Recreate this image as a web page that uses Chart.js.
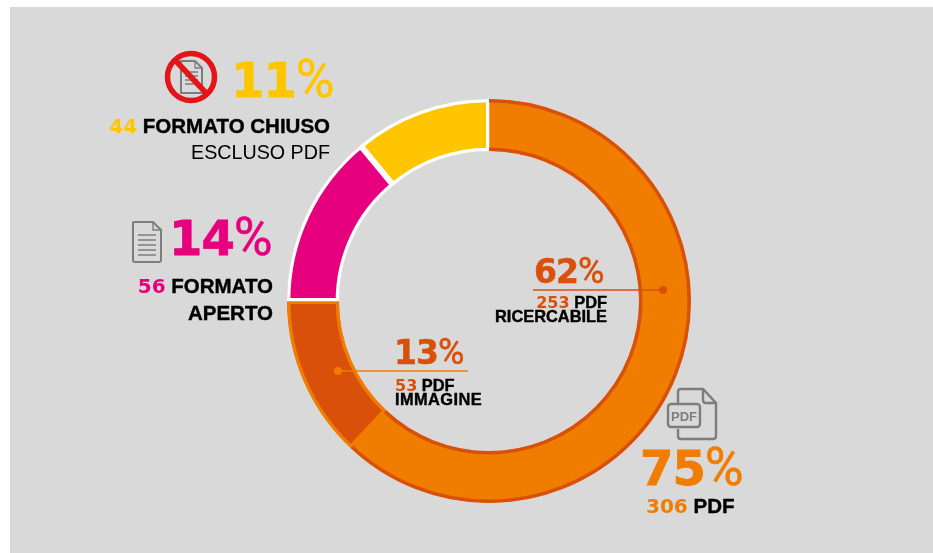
<!DOCTYPE html>
<html>
<head>
<meta charset="utf-8">
<script src="https://cdn.jsdelivr.net/npm/chart.js@4"></script>
<style>
  html, body { margin: 0; padding: 0; width: 933px; height: 553px; background: #fff; overflow: hidden; }
  #panel { position: absolute; left: 10px; top: 7px; right: 0; bottom: 0; background: #d9d9d9; }
  #donut { position: absolute; left: 0; top: 0; }
  .t { position: absolute; white-space: nowrap; font-family: "Liberation Sans", sans-serif; color: #000; }
  .r { text-align: right; }
  .pct { font-family: "DejaVu Sans", sans-serif; font-weight: 700; letter-spacing: -1px; -webkit-text-stroke: 0.8px currentColor; }
  .pct i { font-family: Roboto, sans-serif; font-style: normal; font-weight: 400; font-size: 53px; letter-spacing: 0; -webkit-text-stroke: 0.5px currentColor; }
  .big { font-size: 48px; line-height: 60px; }
  .small { font-size: 33px; line-height: 36px; -webkit-text-stroke: 0.5px currentColor; }
  .small i { font-size: 36px; }
  .lab { font-size: 20.5px; line-height: 26px; font-weight: 700; -webkit-text-stroke: 0.4px currentColor; }
  .mini { font-size: 16.4px; line-height: 14px; font-weight: 700; -webkit-text-stroke: 0.4px currentColor; }
  .lab span:first-child { font-family: "DejaVu Sans", sans-serif; font-size: 20px; -webkit-text-stroke: 0; }
  .mini span:first-child { font-family: "DejaVu Sans", sans-serif; font-size: 16px; -webkit-text-stroke: 0; }
  .reg { font-size: 19.7px; font-weight: 400; -webkit-text-stroke: 0; }
  svg { position: absolute; }
</style>
</head>
<body>
<div id="panel"></div>
<canvas id="donut" width="933" height="553"></canvas>

<svg style="left:160px;top:46px" width="62" height="62" viewBox="0 0 62 62">
  <path d="M21 15h14l7 7v25h-21z" fill="none" stroke="#7d7d7d" stroke-width="2"/>
  <path d="M35 15v7h7M25 26h13M25 30h13M25 34h13M25 38h13" fill="none" stroke="#7d7d7d" stroke-width="1.3"/>
  <circle cx="31" cy="31" r="23.5" fill="none" stroke="#e3151a" stroke-width="5.5"/>
  <path d="M15 14l32 34" stroke="#e3151a" stroke-width="5.5"/>
</svg>
<svg style="left:130px;top:219px" width="34" height="46" viewBox="0 0 34 46">
  <path d="M4 3h19l8 8v30q0 2-2 2H5q-2 0-2-2V4q0-1 1-1z" fill="none" stroke="#7d7d7d" stroke-width="2"/>
  <path d="M23 3v8h8M8 16h18M8 21h18M8 26h18M8 31h18M8 36h18" fill="none" stroke="#7d7d7d" stroke-width="1.4"/>
</svg>
<svg style="left:662px;top:385px" width="58" height="58" viewBox="0 0 58 58">
  <path d="M16 18V7q0-3 3-3h22l13 14v33q0 3-3 3H19q-3 0-3-3v-7" fill="none" stroke="#7d7d7d" stroke-width="2.4"/>
  <path d="M41 4v11q0 3 3 3h10" fill="none" stroke="#7d7d7d" stroke-width="2.4"/>
  <rect x="6" y="19" width="32" height="23" rx="3" fill="#d9d9d9" stroke="#7d7d7d" stroke-width="2.4"/>
  <text x="22" y="35.5" text-anchor="middle" font-family="Liberation Sans" font-weight="700" font-size="13" fill="#7d7d7d">PDF</text>
</svg>

<div class="t pct big" id="pctClosed" style="left:231px;top:49px;color:#ffc600"></div>
<div class="t lab r" style="right:603px;top:113px;"><span id="numClosed" style="color:#ffc600"></span> <span id="catClosed"></span></div>
<div class="t lab r reg" id="subClosed" style="right:603px;top:139px;"></div>

<div class="t pct big" id="pctOpen" style="left:169px;top:207px;color:#e6007e"></div>
<div class="t lab r" style="right:660px;top:273px;"><span id="numOpen" style="color:#e6007e"></span> <span id="catOpen"></span></div>
<div class="t lab r" id="subOpen" style="right:660px;top:300px;"></div>

<div class="t pct big" id="pctPdf" style="left:640px;top:437px;color:#f07c00"></div>
<div class="t lab" style="left:646px;top:493px;"><span id="numPdf" style="color:#f07c00"></span> <span id="catPdf"></span></div>

<div class="t pct small" id="pctSearch" style="left:534px;top:253px;color:#d9500b"></div>
<div class="t mini r" style="right:326px;top:295px;"><span id="numSearch" style="color:#d9500b"></span> <span id="catSearch"></span></div>
<div class="t mini r" id="subSearch" style="right:326px;top:309px;"></div>

<div class="t pct small" id="pctImage" style="left:394px;top:334px;color:#d9500b"></div>
<div class="t mini" style="left:395px;top:378px;"><span id="numImage" style="color:#d9500b"></span> <span id="catImage"></span></div>
<div class="t mini" id="subImage" style="left:395px;top:392px;letter-spacing:0.4px;"></div>

<script>
// ring slices, clockwise from the top
const sliceNames = ['PDF ricercabile', 'PDF immagine', 'Formato aperto', 'Formato chiuso'];
const slicePercents = [62, 13, 14, 11];
const sliceCounts = [253, 53, 56, 44];
const sliceColors = ['#f07c00', '#d9500b', '#e6007e', '#ffc600'];
const sliceBorders = ['#d9500b', '#f07c00', '#ffffff', '#ffffff'];
const sliceBorderWidths = [0, 3, 3, 3];

const pdfTotalPercent = 75;
const pdfTotalCount = 306;

function setPct(id, value) {
  document.getElementById(id).innerHTML = value + '<i>%</i>';
}
function setText(id, value) {
  document.getElementById(id).textContent = value;
}

setPct('pctSearch', slicePercents[0]);
setText('numSearch', sliceCounts[0]);
setText('catSearch', 'PDF');
setText('subSearch', 'RICERCABILE');
setPct('pctImage', slicePercents[1]);
setText('numImage', sliceCounts[1]);
setText('catImage', 'PDF');
setText('subImage', 'IMMAGINE');
setPct('pctOpen', slicePercents[2]);
setText('numOpen', sliceCounts[2]);
setText('catOpen', 'FORMATO');
setText('subOpen', 'APERTO');
setPct('pctClosed', slicePercents[3]);
setText('numClosed', sliceCounts[3]);
setText('catClosed', 'FORMATO CHIUSO');
setText('subClosed', 'ESCLUSO PDF');
setPct('pctPdf', pdfTotalPercent);
setText('numPdf', pdfTotalCount);
setText('catPdf', 'PDF');

// dark rim on the big orange slice only, so its radial ends stay clean
const rimPlugin = {
  id: 'rim',
  afterDatasetsDraw(chart) {
    const arc = chart.getDatasetMeta(0).data[0];
    const ctx = chart.ctx;
    const w = 3.5;
    ctx.save();
    ctx.strokeStyle = sliceBorders[0];
    ctx.lineWidth = w;
    ctx.beginPath();
    ctx.arc(arc.x, arc.y, arc.outerRadius - w / 2, arc.startAngle, arc.endAngle);
    ctx.stroke();
    ctx.beginPath();
    ctx.arc(arc.x, arc.y, arc.innerRadius + w / 2, arc.startAngle, arc.endAngle);
    ctx.stroke();
    ctx.restore();
  }
};

// leader lines from the two pdf slices to their labels
const leaderPlugin = {
  id: 'leaders',
  afterDraw(chart) {
    const ctx = chart.ctx;
    const lines = [
      { x0: 663, y0: 290, x1: 533, color: '#d9500b' },
      { x0: 338, y0: 371, x1: 468, color: '#f07c00' }
    ];
    lines.forEach(l => {
      ctx.save();
      ctx.strokeStyle = l.color;
      ctx.fillStyle = l.color;
      ctx.lineWidth = 1.5;
      ctx.beginPath();
      ctx.moveTo(l.x0, l.y0);
      ctx.lineTo(l.x1, l.y0);
      ctx.stroke();
      ctx.beginPath();
      ctx.arc(l.x0, l.y0, 4, 0, Math.PI * 2);
      ctx.fill();
      ctx.restore();
    });
  }
};

new Chart(document.getElementById('donut'), {
  type: 'doughnut',
  data: {
    labels: sliceNames,
    datasets: [{
      data: slicePercents,
      backgroundColor: sliceColors,
      borderColor: sliceBorders,
      borderWidth: sliceBorderWidths,
      borderAlign: 'inner'
    }]
  },
  options: {
    responsive: false,
    animation: false,
    cutout: 150,
    layout: { padding: { left: 287, right: 242, top: 99, bottom: 50 } },
    plugins: { legend: { display: false }, tooltip: { enabled: false } }
  },
  plugins: [rimPlugin, leaderPlugin]
});
</script>
</body>
</html>
